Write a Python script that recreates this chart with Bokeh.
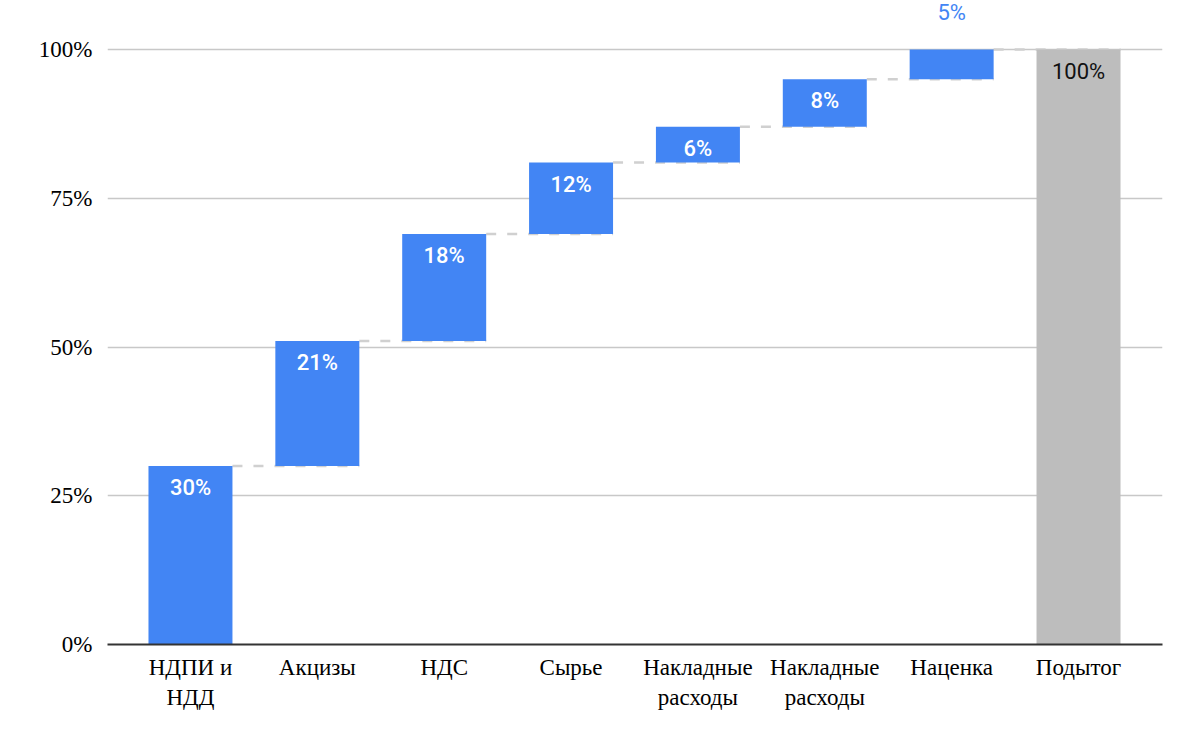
from bokeh.plotting import figure
from bokeh.models import Range1d, FixedTicker, ColumnDataSource, LabelSet
from bokeh.core.properties import value
from bokeh.embed import file_html
from bokeh.resources import INLINE

# ---- data ----
categories = ["НДПИ и\nНДД", "Акцизы", "НДС", "Сырье",
              "Накладные\nрасходы", "Накладные\nрасходы", "Наценка", "Подытог"]
steps = [30, 21, 18, 12, 6, 8, 5]
subtotal = 100
step_labels = ["30%", "21%", "18%", "12%", "6%", "8%", "5%"]
subtotal_label = "100%"
label_inside = [True, True, True, True, True, True, False]
y_ticks = [0, 25, 50, 75, 100]
y_tick_labels = ["0%", "25%", "50%", "75%", "100%"]

BLUE = "#4285F4"
GREY = "#BDBDBD"
BAR_W = 0.662

n = len(steps)
bottoms, tops = [], []
c = 0
for v in steps:
    bottoms.append(c)
    c += v
    tops.append(c)
bottoms.append(0)
tops.append(subtotal)
xs = list(range(n + 1))
colors = [BLUE] * n + [GREY]

p = figure(width=1192, height=734,
           x_range=Range1d(-0.654, 7.662), y_range=Range1d(0, 108.24),
           output_backend="svg", toolbar_location=None,
           min_border_left=107, min_border_right=30,
           min_border_top=0, min_border_bottom=90)
p.outline_line_color = None
p.background_fill_color = "white"

# grid
p.xgrid.grid_line_color = None
p.ygrid.ticker = FixedTicker(ticks=y_ticks)
p.ygrid.grid_line_color = "#c8c8c8"
p.ygrid.grid_line_width = 1.5

# y axis
p.yaxis.ticker = FixedTicker(ticks=y_ticks)
p.yaxis.major_label_overrides = {t: l for t, l in zip(y_ticks, y_tick_labels)}
p.yaxis.axis_line_color = None
p.yaxis.major_tick_line_color = None
p.yaxis.minor_tick_line_color = None
p.yaxis.major_tick_out = 0
p.yaxis.major_tick_in = 0
p.yaxis.major_label_standoff = 15
p.yaxis.major_label_text_font = "Liberation Serif"
p.yaxis.major_label_text_font_size = "23px"
p.yaxis.major_label_text_color = "#000000"

# x axis
p.xaxis.ticker = FixedTicker(ticks=xs)
p.xaxis.major_label_overrides = {i: cat for i, cat in enumerate(categories)}
p.xaxis.axis_line_color = "#333333"
p.xaxis.axis_line_width = 2
p.xaxis.major_tick_line_color = None
p.xaxis.minor_tick_line_color = None
p.xaxis.major_tick_out = 0
p.xaxis.major_tick_in = 0
p.xaxis.major_label_standoff = 10
p.xaxis.major_label_text_font = "Liberation Serif"
p.xaxis.major_label_text_font_size = "23px"
p.xaxis.major_label_text_color = "#000000"

# connectors (dashed)
cx0 = [xs[i] + BAR_W / 2 for i in range(n)]
cx1 = [xs[i + 1] + BAR_W / 2 for i in range(n)]
cy = [tops[i] for i in range(n)]
p.segment(x0=cx0, y0=cy, x1=cx1, y1=cy, line_color="#d0d0d0",
          line_width=2.5, line_dash="10 11")

# bars
src = ColumnDataSource(dict(x=xs, bottom=bottoms, top=tops, color=colors))
p.vbar(x="x", bottom="bottom", top="top", width=BAR_W, fill_color="color",
       line_color=None, source=src)

# labels
in_x, in_y, in_t, in_c, in_f = [], [], [], [], []
out_x, out_y, out_t = [], [], []
for i in range(n):
    if label_inside[i]:
        in_x.append(xs[i]); in_y.append(tops[i]); in_t.append(step_labels[i])
        in_c.append("#ffffff"); in_f.append("'Roboto Medium', Roboto")
    else:
        out_x.append(xs[i]); out_y.append(tops[i]); out_t.append(step_labels[i])
in_x.append(xs[n]); in_y.append(tops[n]); in_t.append(subtotal_label)
in_c.append("#111111"); in_f.append("Roboto")

lab_in = LabelSet(x="x", y="y", text="t", text_color="c", text_font="f",
                  source=ColumnDataSource(dict(x=in_x, y=in_y, t=in_t, c=in_c, f=in_f)),
                  text_align="center", text_baseline="top", y_offset=-9,
                  text_font_size="22px")
lab_out = LabelSet(x="x", y="y", text="t", text_color=BLUE,
                   source=ColumnDataSource(dict(x=out_x, y=out_y, t=out_t)),
                   text_align="center", text_baseline="bottom", y_offset=25,
                   text_font=value("Roboto"), text_font_size="22px")
p.add_layout(lab_in)
p.add_layout(lab_out)

open("out.html", "w").write(file_html(p, INLINE))
